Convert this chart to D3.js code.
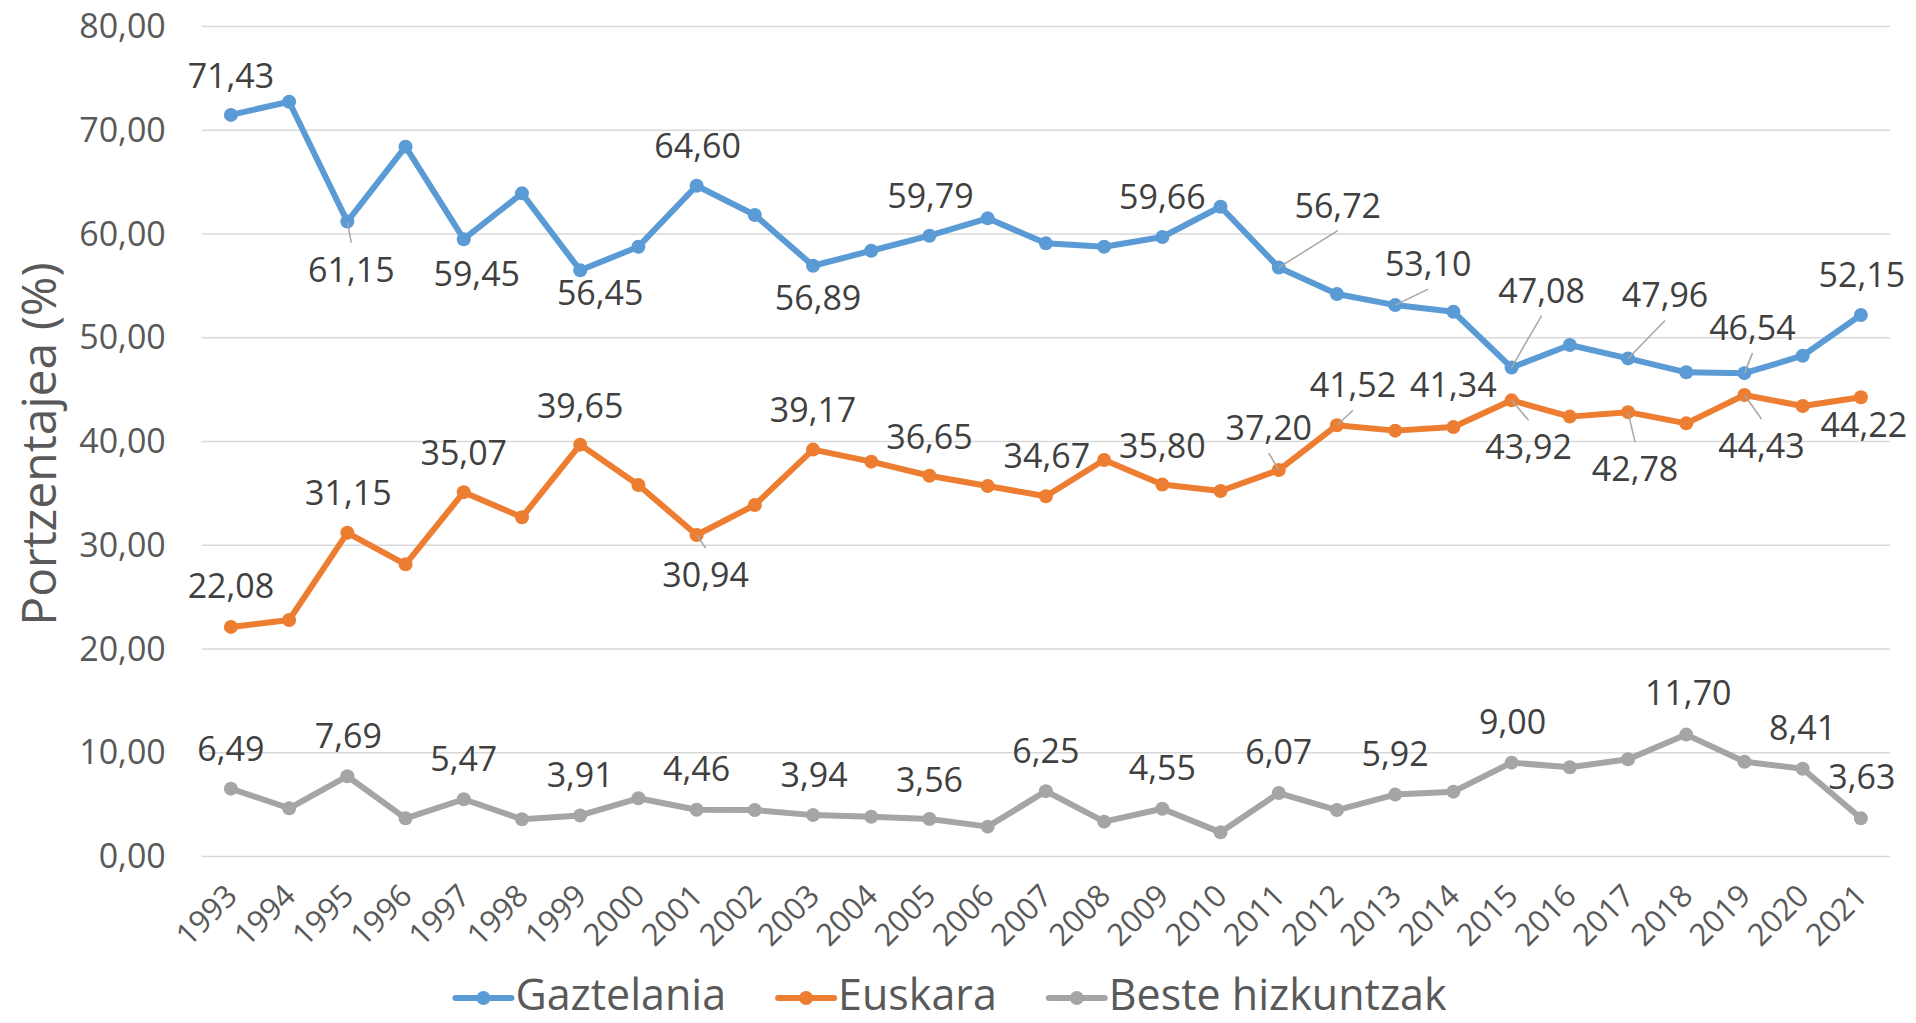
<!DOCTYPE html>
<html>
<head>
<meta charset="utf-8">
<script src="https://cdn.jsdelivr.net/npm/d3@7"></script>
<style>
  html, body { margin: 0; padding: 0; background: #fff; }
  svg { display: block; font-family: "Open Sans", "Noto Sans", sans-serif; }
</style>
</head>
<body>
<svg id="chart" width="1916" height="1023"></svg>
<script>
// ---------------- DATA ----------------
const years = ["1993","1994","1995","1996","1997","1998","1999","2000","2001","2002",
  "2003","2004","2005","2006","2007","2008","2009","2010","2011","2012","2013","2014",
  "2015","2016","2017","2018","2019","2020","2021"];

const gaztelania = [71.43, 72.70, 61.15, 68.37, 59.45, 63.87, 56.45, 58.73, 64.60, 61.78,
  56.89, 58.34, 59.79, 61.46, 59.05, 58.73, 59.66, 62.58, 56.72, 54.17, 53.10, 52.46,
  47.08, 49.25, 47.96, 46.62, 46.54, 48.22, 52.15];

const euskara = [22.08, 22.75, 31.15, 28.11, 35.07, 32.65, 39.65, 35.76, 30.94, 33.83,
  39.17, 38.01, 36.65, 35.66, 34.67, 38.17, 35.80, 35.18, 37.20, 41.52, 41.00, 41.34,
  43.92, 42.35, 42.78, 41.70, 44.43, 43.37, 44.22];

const beste = [6.49, 4.60, 7.69, 3.63, 5.47, 3.54, 3.91, 5.56, 4.46, 4.43,
  3.94, 3.79, 3.56, 2.83, 6.25, 3.31, 4.55, 2.28, 6.07, 4.43, 5.92, 6.20,
  9.00, 8.55, 9.32, 11.70, 9.09, 8.41, 3.63];

const seriesNames = ["Gaztelania", "Euskara", "Beste hizkuntzak"];
const yTicks = [0, 10, 20, 30, 40, 50, 60, 70, 80];
const axisTitle = "Portzentajea (%)";

// Years that carry a data label, per series
const labelYearsG = ["1993","1995","1997","1999","2001","2003","2005","2009","2011","2013","2015","2017","2019","2021"];
const labelYearsE = ["1993","1995","1997","1999","2001","2003","2005","2007","2009","2011","2012","2014","2015","2017","2019","2021"];
const labelYearsB = ["1993","1995","1997","1999","2001","2003","2005","2007","2009","2011","2013","2015","2018","2020","2021"];

// ---------------- LAYOUT (label offsets in px from the point: dx, baseline dy, leader) ----------------
const labelLayoutG = [[0,-27,0],[4,60,1],[13,47,0],[20,35,0],[1,-28,0],[5,44,0],[1,-28,0],[0,-28,0],
  [59,-50,1],[33,-29,1],[30,-65,1],[37,-51,1],[8,-33,1],[1,-28,0]];
const labelLayoutE = [[0,-29,0],[1,-28,0],[0,-27,0],[0,-27,0],[9,52,1],[0,-28,0],[0,-27,0],[1,-28,0],
  [0,-27,0],[-10,-30,1],[16,-28,1],[0,-30,0],[17,59,1],[7,69,1],[17,63,1],[3,40,0]];
const labelLayoutB = [[0,-28,0],[1,-28,0],[0,-28,0],[0,-28,0],[0,-29,0],[1,-28,0],[0,-27,0],[0,-28,0],
  [0,-29,0],[0,-29,0],[0,-29,0],[1,-29,0],[2,-30,0],[0,-29,0],[1,-29,0]];

const colors = ["#5b9bd5", "#ed7d31", "#a5a5a5"];

// ---------------- CHART ----------------
const svg = d3.select("#chart");
const plot = { left: 201.8, right: 1890, top: 26, bottom: 856 };

const x = d3.scalePoint().domain(years).range([plot.left, plot.right]).padding(0.5);
const y = d3.scaleLinear().domain([0, 80]).range([plot.bottom, plot.top]);
const fmt = v => v.toFixed(2).replace(".", ",");

// Y axis with gridlines
const yAxis = svg.append("g")
  .attr("transform", `translate(${plot.left},0)`)
  .call(d3.axisLeft(y).tickValues(yTicks).tickSize(-(plot.right - plot.left)).tickPadding(36).tickFormat(fmt));
yAxis.select(".domain").remove();
yAxis.selectAll(".tick line").attr("stroke", "#d9d9d9").attr("stroke-width", 1.5);
yAxis.selectAll(".tick text").attr("fill", "#595959").style("font-size", "34px")
  .attr("dy", "0.34em");
yAxis.attr("font-family", null).attr("font-size", null);

// X axis
const xAxis = svg.append("g")
  .attr("transform", `translate(0,${plot.bottom})`)
  .call(d3.axisBottom(x).tickSize(0));
xAxis.select(".domain").remove();
xAxis.attr("font-family", null).attr("font-size", null);
xAxis.selectAll(".tick text")
  .attr("fill", "#595959").style("font-size", "31px")
  .attr("x", 0).attr("y", 34).attr("dy", "0.35em")
  .attr("text-anchor", "end")
  .attr("transform", "rotate(-45,0,34)");

// Y title
svg.append("text")
  .attr("transform", `translate(56,444) rotate(-90)`)
  .attr("text-anchor", "middle")
  .attr("fill", "#595959")
  .style("font-size", "48px")
  .text(axisTitle);

// Series
const seriesData = [gaztelania, euskara, beste];
const line = d3.line().x((d, i) => x(years[i])).y(d => y(d));

seriesData.forEach((vals, si) => {
  const g = svg.append("g");
  g.append("path").datum(vals)
    .attr("d", line).attr("fill", "none")
    .attr("stroke", colors[si]).attr("stroke-width", 6)
    .attr("stroke-linejoin", "round").attr("stroke-linecap", "round");
  g.selectAll("circle").data(vals).join("circle")
    .attr("cx", (d, i) => x(years[i])).attr("cy", d => y(d))
    .attr("r", 7).attr("fill", colors[si]);
});

// Data labels with leader lines
const labelSets = [
  [gaztelania, labelYearsG, labelLayoutG],
  [euskara, labelYearsE, labelLayoutE],
  [beste, labelYearsB, labelLayoutB]
];
const leaderG = svg.append("g");
const labelG = svg.append("g");
labelSets.forEach(([vals, ly, lay]) => {
  ly.forEach((yr, k) => {
    const i = years.indexOf(yr);
    const px = x(yr), py = y(vals[i]);
    const [dx, dy, leader] = lay[k];
    const lx = px + dx, by = py + dy;
    if (leader) {
      const ey = dy < 0 ? by + 13 : by - 39;
      leaderG.append("line")
        .attr("x1", px).attr("y1", py).attr("x2", lx).attr("y2", ey)
        .attr("stroke", "#a6a6a6").attr("stroke-width", 1.5);
    }
    labelG.append("text")
      .attr("x", lx).attr("y", by)
      .attr("text-anchor", "middle")
      .attr("fill", "#404040")
      .style("font-size", "34px")
      .text(fmt(vals[i]));
  });
});

// Legend
const legend = svg.append("g");
const legendY = 998;
const legendBase = 1010;
let cursor = 0;
seriesNames.forEach((name, si) => {
  const it = legend.append("g");
  it.append("line").attr("x1", 0).attr("x2", 56).attr("y1", legendY).attr("y2", legendY)
    .attr("stroke", colors[si]).attr("stroke-width", 6).attr("stroke-linecap", "round");
  it.append("circle").attr("cx", 28).attr("cy", legendY).attr("r", 7).attr("fill", colors[si]);
  const t = it.append("text").attr("x", 60).attr("y", legendBase)
    .attr("fill", "#595959").style("font-size", "43px").text(name);
  const w = t.node().getComputedTextLength();
  it.attr("transform", `translate(${cursor},0)`);
  cursor += 60 + w + 52;
});
const totalW = cursor - 52;
legend.attr("transform", `translate(${951 - totalW / 2},0)`);
</script>
</body>
</html>
